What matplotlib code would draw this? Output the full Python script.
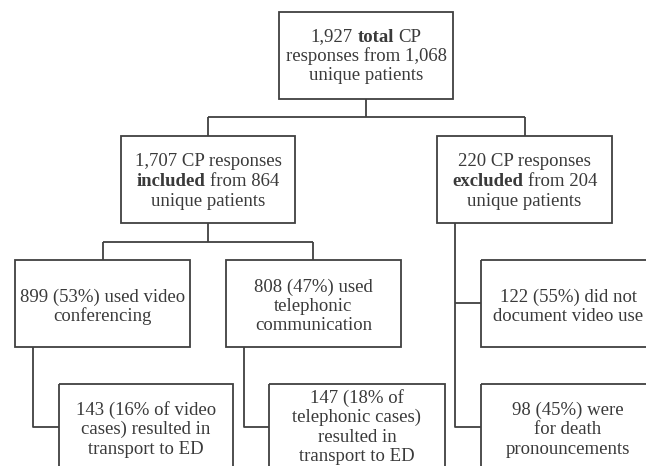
import matplotlib.pyplot as plt
from matplotlib.patches import Rectangle

# box texts: each line is a list of (words, bold) pieces joined by a space
total_lines = [[("1,927", False), ("total", True), ("CP", False)],
               [("responses from 1,068", False)],
               [("unique patients", False)]]
included_lines = [[("1,707 CP responses", False)],
                  [("included", True), ("from 864", False)],
                  [("unique patients", False)]]
excluded_lines = [[("220 CP responses", False)],
                  [("excluded", True), ("from 204", False)],
                  [("unique patients", False)]]
video_lines = [[("899 (53%) used video", False)],
               [("conferencing", False)]]
phone_lines = [[("808 (47%) used", False)],
               [("telephonic", False)],
               [("communication", False)]]
video_ed_lines = [[("143 (16% of video", False)],
                  [("cases) resulted in", False)],
                  [("transport to ED", False)]]
phone_ed_lines = [[("147 (18% of", False)],
                  [("telephonic cases)", False)],
                  [("resulted in", False)],
                  [("transport to ED", False)]]
novideo_lines = [[("122 (55%) did not", False)],
                 [("document video use", False)]]
death_lines = [[("98 (45%) were", False)],
               [("for death", False)],
               [("pronouncements", False)]]

W, H = 646, 466
LINE_C = "#404040"
TEXT_C = "#3a3a3a"
FS = 13.5
LSP = 19.5

fig = plt.figure(figsize=(W / 100, H / 100), dpi=100)
ax = fig.add_axes([0, 0, 1, 1])
ax.set_xlim(0, W)
ax.set_ylim(H, 0)
ax.axis("off")
renderer = fig.canvas.get_renderer()


def text_width(s, bold):
    t = ax.text(0, 0, s, fontsize=FS, family="Liberation Serif",
                fontweight="bold" if bold else "normal")
    w = t.get_window_extent(renderer).width
    t.remove()
    return w


space_w = text_width("x x", False) - text_width("xx", False)


def draw_line(cx, cy, parts):
    widths = [text_width(s, b) for s, b in parts]
    total = sum(widths) + space_w * (len(parts) - 1)
    x = cx - total / 2
    for (s, b), w in zip(parts, widths):
        ax.text(x, cy, s, fontsize=FS, family="Liberation Serif",
                fontweight="bold" if b else "normal", color=TEXT_C,
                ha="left", va="center_baseline")
        x += w + space_w


def box(x0, y0, w, h, lines, ty):
    ax.add_patch(Rectangle((x0, y0), w, h, fill=False, ec=LINE_C, lw=1.3))
    cx = x0 + w / 2
    for i, parts in enumerate(lines):
        draw_line(cx, ty + i * LSP, parts)


def path(xs, ys):
    ax.plot(xs, ys, color=LINE_C, lw=1.3, solid_capstyle="butt")


# boxes
box(279, 12, 174, 87, total_lines, 35)
box(121, 136, 174, 87, included_lines, 160)
box(437, 136, 175, 87, excluded_lines, 160)
box(15, 260, 175, 87, video_lines, 295)
box(226, 260, 175, 87, phone_lines, 285)
box(59, 384, 174, 90, video_ed_lines, 408)
box(269, 384, 176, 90, phone_ed_lines, 396)
box(481, 260, 174, 87, novideo_lines, 295)
box(481, 384, 174, 90, death_lines, 408)

# connectors
path([366, 366], [99, 117])
path([208, 525], [117, 117])
path([208, 208], [117, 136])
path([525, 525], [117, 136])
path([208, 208], [223, 242])
path([103, 313], [242, 242])
path([103, 103], [242, 260])
path([313, 313], [242, 260])
path([33, 33, 59], [347, 427, 427])
path([244, 244, 269], [347, 427, 427])
path([455, 455, 481], [223, 427, 427])
path([455, 481], [303, 303])

fig.savefig("out.png", dpi=100)
